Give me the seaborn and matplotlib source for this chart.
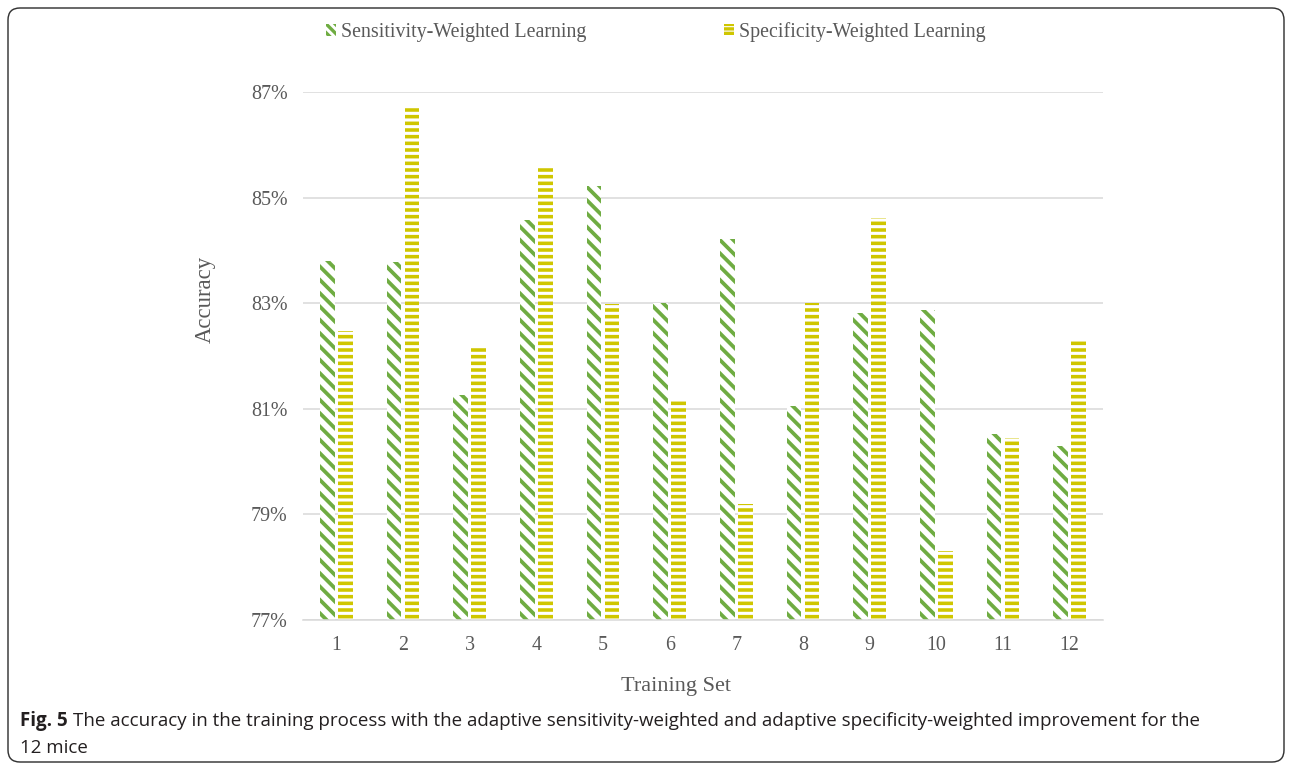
import matplotlib
matplotlib.use("Agg")
import matplotlib.pyplot as plt
from matplotlib.patches import Patch, FancyBboxPatch
from matplotlib.transforms import IdentityTransform
import seaborn as sns
import pandas as pd

# ---- data -------------------------------------------------------------
training_sets = ["1", "2", "3", "4", "5", "6", "7", "8", "9", "10", "11", "12"]
sensitivity_weighted = [83.80, 83.78, 81.26, 84.58, 85.22, 83.00,
                        84.22, 81.05, 82.81, 82.87, 80.52, 80.30]
specificity_weighted = [82.47, 86.73, 82.19, 85.60, 82.98, 81.19,
                        79.20, 83.00, 84.61, 78.31, 80.45, 82.28]
series_names = ["Sensitivity-Weighted Learning", "Specificity-Weighted Learning"]
y_ticks = [77, 79, 81, 83, 85, 87]

df = pd.DataFrame({
    "Training Set": training_sets * 2,
    "Method": [series_names[0]] * len(training_sets) + [series_names[1]] * len(training_sets),
    "Accuracy": sensitivity_weighted + specificity_weighted,
})

# ---- style ------------------------------------------------------------
sns.set_style("white")
DPI = 80
W, H = 1292, 770
GREEN = "#6FAC42"
YELLOW = "#CFC600"
TEXT = "#595959"
GRID = "#D9D9D9"
serif = ["Liberation Serif", "DejaVu Serif"]
caption_font = ["Open Sans", "DejaVu Sans"]

plt.rcParams["hatch.linewidth"] = 3.0

fig = plt.figure(figsize=(W / DPI, H / DPI), dpi=DPI)
ax = fig.add_axes([303 / W, 150 / H, 800 / W, 528 / H])

sns.barplot(data=df, x="Training Set", y="Accuracy", hue="Method",
            order=training_sets, hue_order=series_names,
            palette=[GREEN, YELLOW], width=0.54, gap=0.17,
            legend=False, ax=ax)

hatches = ["\\\\", "--"]
colors = [GREEN, YELLOW]
hatch_lw = [3.4, 3.2]
for container, hatch, col, hlw in zip(ax.containers, hatches, colors, hatch_lw):
    for bar in container:
        bar.set_facecolor("white")
        bar.set_edgecolor(col)
        bar.set_linewidth(0)
        bar.set_hatch(hatch)
        if hasattr(bar, "set_hatch_linewidth"):
            bar.set_hatch_linewidth(hlw)

ax.set_ylim(77, 87)
ax.set_xlim(-0.5, len(training_sets) - 0.5)
ax.set_yticks(y_ticks)
ax.set_yticklabels([f"{t}%" for t in y_ticks])
ax.yaxis.grid(True, color=GRID, linewidth=1.4)
ax.set_axisbelow(True)
for s in ["top", "right", "left"]:
    ax.spines[s].set_visible(False)
ax.spines["bottom"].set_color(GRID)
ax.spines["bottom"].set_linewidth(1.4)
ax.tick_params(axis="both", length=0, labelsize=18, labelcolor=TEXT)
ax.tick_params(axis="y", pad=14)
ax.tick_params(axis="x", pad=14)
for lab in ax.get_xticklabels() + ax.get_yticklabels():
    lab.set_family(serif)
ax.set_xlabel("")
ax.set_ylabel("")

# axis titles
fig.text(205 / W, 1 - 299 / H, "Accuracy", rotation=90, ha="center", va="center",
         fontsize=20.5, color=TEXT, family=serif)
fig.text(676 / W, 1 - 686 / H, "Training Set", ha="center", va="center",
         fontsize=20, color=TEXT, family=serif)

# legend
handles = [Patch(facecolor="white", edgecolor=GREEN, linewidth=0, hatch="\\\\\\"),
           Patch(facecolor="white", edgecolor=YELLOW, linewidth=0, hatch="---")]
leg = fig.legend(handles, series_names, loc="center", bbox_to_anchor=(656 / W, 1 - 32 / H),
                 ncol=2, frameon=False, handlelength=0.5, handleheight=0.5,
                 handletextpad=0.25, columnspacing=6.9,
                 prop={"family": serif, "size": 18})
for t in leg.get_texts():
    t.set_color(TEXT)

# caption
fig.canvas.draw()
renderer = fig.canvas.get_renderer()
cap_y = 1 - 721 / H
cap_size = 16.9
bold = fig.text(20 / W, cap_y, "Fig. 5", fontsize=cap_size, fontweight="bold",
                family=caption_font, color="#231F20", va="center")
bb = bold.get_window_extent(renderer)
fig.text((bb.x1 + 5) / W, cap_y,
         "The accuracy in the training process with the adaptive sensitivity-weighted "
         "and adaptive specificity-weighted improvement for the",
         fontsize=cap_size, family=caption_font, color="#231F20", va="center")
fig.text(20 / W, 1 - 748 / H, "12 mice", fontsize=cap_size, family=caption_font,
         color="#231F20", va="center")

# rounded frame around the figure
frame = FancyBboxPatch((8, 8), 1276, 754, boxstyle="round,pad=0,rounding_size=12",
                       transform=IdentityTransform(), facecolor="none",
                       edgecolor="#333333", linewidth=1.3)
fig.patches.append(frame)

fig.savefig("out.png", dpi=DPI, facecolor="white")
